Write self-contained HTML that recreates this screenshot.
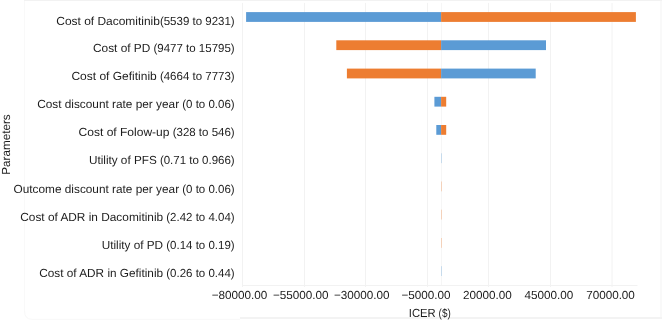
<!DOCTYPE html>
<html><head><meta charset="utf-8"><title>Tornado diagram</title>
<style>
html,body{margin:0;padding:0;background:#fff;}
svg{display:block;font-family:"Liberation Sans",sans-serif;font-size:11.7px;fill:#1c1c1c;will-change:transform;text-rendering:geometricPrecision;-webkit-font-smoothing:antialiased;}
</style></head><body>
<svg width="662" height="320" viewBox="0 0 662 320">
<rect width="662" height="320" fill="#ffffff"/>
<line x1="24.5" y1="1" x2="24.5" y2="311" stroke="#f9f9f9" stroke-width="1"/>
<line x1="24" y1="0.5" x2="662" y2="0.5" stroke="#f2f2f2" stroke-width="1"/>
<rect x="660" y="1" width="2" height="317" fill="#f9f9f9"/>
<path d="M24.5 311 Q24.5 319.3 32 319.3 H240" fill="none" stroke="#f8f8f8" stroke-width="1"/>
<rect x="240" y="317.1" width="422" height="1.8" fill="#f2f2f2"/>
<line x1="242.5" y1="2.9" x2="242.5" y2="287.0" stroke="#f2f2f2" stroke-width="1"/>
<line x1="304.5" y1="2.9" x2="304.5" y2="287.0" stroke="#f2f2f2" stroke-width="1"/>
<line x1="365.5" y1="2.9" x2="365.5" y2="287.0" stroke="#f2f2f2" stroke-width="1"/>
<line x1="427.5" y1="2.9" x2="427.5" y2="287.0" stroke="#f2f2f2" stroke-width="1"/>
<line x1="488.5" y1="2.9" x2="488.5" y2="287.0" stroke="#f2f2f2" stroke-width="1"/>
<line x1="550.5" y1="2.9" x2="550.5" y2="287.0" stroke="#f2f2f2" stroke-width="1"/>
<line x1="612.0" y1="2.9" x2="612.0" y2="287.0" stroke="#f2f2f2" stroke-width="1"/>
<line x1="242.0" y1="285.5" x2="637.5" y2="285.5" stroke="#f2f2f2" stroke-width="1"/>
<line x1="441.5" y1="2.9" x2="441.5" y2="285.0" stroke="#f6f6f6" stroke-width="1"/>
<rect x="246.1" y="12.1" width="195.0" height="9.8" fill="#5b9bd5"/><rect x="441.1" y="12.1" width="194.8" height="9.8" fill="#ed7d31"/>
<rect x="336.3" y="40.3" width="104.8" height="9.8" fill="#ed7d31"/><rect x="441.1" y="40.3" width="104.9" height="9.8" fill="#5b9bd5"/>
<rect x="346.9" y="68.6" width="94.2" height="9.8" fill="#ed7d31"/><rect x="441.1" y="68.6" width="94.6" height="9.8" fill="#5b9bd5"/>
<rect x="434.4" y="96.8" width="6.7" height="9.8" fill="#5b9bd5"/><rect x="441.1" y="96.8" width="5.1" height="9.8" fill="#ed7d31"/>
<rect x="436.3" y="125.0" width="4.8" height="9.8" fill="#5b9bd5"/><rect x="441.1" y="125.0" width="5.1" height="9.8" fill="#ed7d31"/>
<rect x="441" y="153.3" width="1" height="9.8" fill="#5b9bd5" opacity="0.3"/>
<rect x="441" y="181.5" width="1" height="9.8" fill="#ed7d31" opacity="0.3"/>
<rect x="441" y="209.7" width="1" height="9.8" fill="#ed7d31" opacity="0.3"/>
<rect x="441" y="238.0" width="1" height="9.8" fill="#ed7d31" opacity="0.3"/>
<rect x="441" y="266.2" width="1" height="9.8" fill="#5b9bd5" opacity="0.3"/>
<text y="24.65"><tspan x="56.25" textLength="103.66" lengthAdjust="spacingAndGlyphs">Cost of Dacomitinib</tspan><tspan x="159.91" textLength="74.74" lengthAdjust="spacingAndGlyphs">(5539 to 9231)</tspan></text>
<text y="52.28"><tspan x="93.05" textLength="57.29" lengthAdjust="spacingAndGlyphs">Cost of PD</tspan> <tspan x="153.52" textLength="81.13" lengthAdjust="spacingAndGlyphs">(9477 to 15795)</tspan></text>
<text y="80.26"><tspan x="71.45" textLength="85.28" lengthAdjust="spacingAndGlyphs">Cost of Gefitinib</tspan> <tspan x="159.91" textLength="74.74" lengthAdjust="spacingAndGlyphs">(4664 to 7773)</tspan></text>
<text y="108.20"><tspan x="37.15" textLength="141.95" lengthAdjust="spacingAndGlyphs">Cost discount rate per year</tspan> <tspan x="182.27" textLength="52.38" lengthAdjust="spacingAndGlyphs">(0 to 0.06)</tspan></text>
<text y="136.30"><tspan x="78.55" textLength="90.96" lengthAdjust="spacingAndGlyphs">Cost of Folow-up</tspan> <tspan x="172.69" textLength="61.96" lengthAdjust="spacingAndGlyphs">(328 to 546)</tspan></text>
<text y="164.20"><tspan x="88.95" textLength="67.78" lengthAdjust="spacingAndGlyphs">Utility of PFS</tspan> <tspan x="159.91" textLength="74.74" lengthAdjust="spacingAndGlyphs">(0.71 to 0.966)</tspan></text>
<text y="192.57"><tspan x="13.55" textLength="165.55" lengthAdjust="spacingAndGlyphs">Outcome discount rate per year</tspan> <tspan x="182.27" textLength="52.38" lengthAdjust="spacingAndGlyphs">(0 to 0.06)</tspan></text>
<text y="220.54"><tspan x="20.25" textLength="142.87" lengthAdjust="spacingAndGlyphs">Cost of ADR in Dacomitinib</tspan> <tspan x="166.30" textLength="68.35" lengthAdjust="spacingAndGlyphs">(2.42 to 4.04)</tspan></text>
<text y="248.70"><tspan x="101.65" textLength="61.47" lengthAdjust="spacingAndGlyphs">Utility of PD</tspan> <tspan x="166.30" textLength="68.35" lengthAdjust="spacingAndGlyphs">(0.14 to 0.19)</tspan></text>
<text y="276.60"><tspan x="39.25" textLength="123.87" lengthAdjust="spacingAndGlyphs">Cost of ADR in Gefitinib</tspan> <tspan x="166.30" textLength="68.35" lengthAdjust="spacingAndGlyphs">(0.26 to 0.44)</tspan></text>
<text x="239.5" y="299.15" text-anchor="middle">−80000.00</text>
<text x="300.7" y="299.15" text-anchor="middle">−55000.00</text>
<text x="361.7" y="299.15" text-anchor="middle">−30000.00</text>
<text x="426.0" y="299.15" text-anchor="middle">−5000.00</text>
<text x="487.3" y="299.15" text-anchor="middle">20000.00</text>
<text x="548.8" y="299.15" text-anchor="middle">45000.00</text>
<text x="610.5" y="299.15" text-anchor="middle">70000.00</text>
<text y="316.8"><tspan x="408.8" textLength="26.9" lengthAdjust="spacingAndGlyphs">ICER</tspan> <tspan x="438.6" textLength="12.2" lengthAdjust="spacingAndGlyphs">($)</tspan></text>
<text transform="translate(10.3,144.5) rotate(-90)" text-anchor="middle">Parameters</text>
</svg>
</body></html>
